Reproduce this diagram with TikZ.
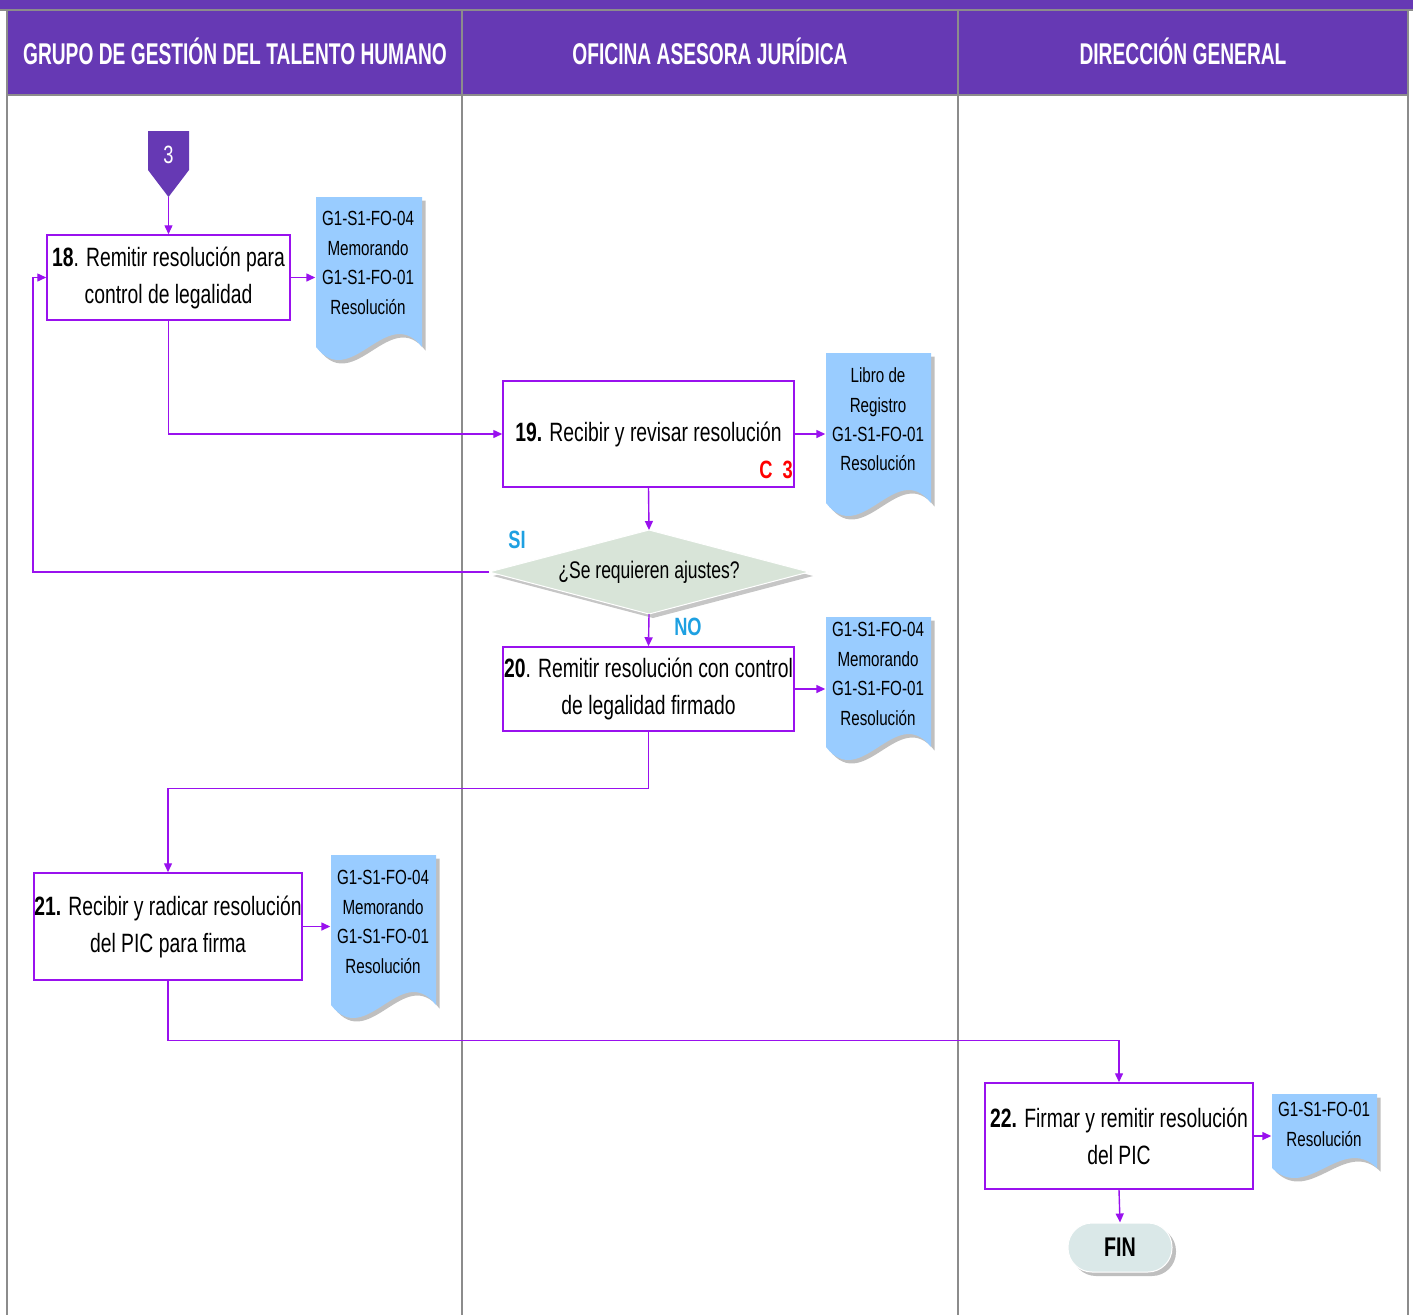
\documentclass[tikz,border=0pt]{standalone}
\usepackage{fontspec}
\setmainfont{Liberation Sans}[FakeStretch=0.73]
\newfontfamily\hdrfont{Liberation Sans}[FakeStretch=0.64]
\newfontfamily\docfontfam{Liberation Sans}[FakeStretch=0.74]
\newfontfamily\decfontfam{Liberation Sans}[FakeStretch=0.73]
\usetikzlibrary{arrows.meta,calc}
\definecolor{hdrpurple}{RGB}{102,57,180}
\definecolor{conn}{RGB}{153,17,238}
\definecolor{lanegray}{RGB}{140,140,140}
\definecolor{docfill}{RGB}{153,204,255}
\definecolor{decfill}{RGB}{216,228,216}
\definecolor{finfill}{RGB}{218,232,232}
\definecolor{lblblue}{RGB}{30,160,225}
\newcommand\docshape[5]{%
  \begin{scope}[shift={(3.5,3.5)}]
    \fill[black!50,opacity=0.5] (#1,#2) -- (#3,#2) -- (#3,#4) .. controls ({#3-(#3-#1)/3},{#4-3.46*#5}) and ({#1+(#3-#1)/3},{#4+3.46*#5}) .. (#1,#4) -- cycle;
  \end{scope}
  \fill[docfill] (#1,#2) -- (#3,#2) -- (#3,#4) .. controls ({#3-(#3-#1)/3},{#4-3.46*#5}) and ({#1+(#3-#1)/3},{#4+3.46*#5}) .. (#1,#4) -- cycle;
}
\begin{document}
\begin{tikzpicture}[x=1pt,y=-1pt,
  lane/.style={draw=lanegray, line width=1.3pt},
  hdr/.style={text=white, font=\hdrfont\bfseries\fontsize{30}{32}\selectfont, inner sep=0pt},
  proc/.style={draw=conn, line width=1.5pt, fill=white, align=center, inner sep=0pt, font=\fontsize{26.5}{37}\selectfont},
  doctext/.style={align=center, inner sep=0pt, minimum width=105, font=\docfontfam\fontsize{20.5}{29.4}\selectfont},
  flow/.style={draw=conn, line width=1.4pt, -{Triangle[length=9pt,width=8pt]}},
  lbl/.style={text=lblblue, font=\bfseries\fontsize{25}{27}\selectfont, inner sep=0pt}
]
\useasboundingbox (0,0) rectangle (1413,1315);
% header
\fill[hdrpurple] (0,0) rectangle (1413,10);
\fill[hdrpurple] (7,10) rectangle (1408,95);
\draw[lane] (0,10) -- (1413,10);
\draw[lane] (7,95) -- (1408,95);
\draw[lane] (7,10) -- (7,1315);
\draw[lane] (462,10) -- (462,1315);
\draw[lane] (958,10) -- (958,1315);
\draw[lane] (1408,10) -- (1408,1315);
\node[hdr] (h1) at (235,51) {GRUPO DE GESTIÓN DEL TALENTO HUMANO};
\node[hdr] (h2) at (710,51) {OFICINA ASESORA JURÍDICA};
\node[hdr] (h3) at (1183,51) {DIRECCIÓN GENERAL};

% off-page connector
\fill[hdrpurple] (148,131) -- (189,131) -- (189,170) -- (168.5,197) -- (148,170) -- cycle;
\node[text=white, font=\fontsize{25}{27}\selectfont, inner sep=0pt] (c3) at (168.5,155) {3};
\coordinate (offtip) at (168.5,197);

% documents
\docshape{316}{197}{422}{347}{13}
\docshape{826}{353}{931}{503}{13}
\docshape{826}{617}{931}{747}{13}
\docshape{331}{855}{436}{1005}{13}
\docshape{1272}{1094}{1377}{1168}{10}
\node[doctext] (d1) at (368,263) {G1-S1-FO-04\\Memorando\\G1-S1-FO-01\\Resolución};
\node[doctext] (d2) at (878,419.5) {Libro de\\Registro\\G1-S1-FO-01\\Resolución};
\node[doctext] (d3) at (878,674) {G1-S1-FO-04\\Memorando\\G1-S1-FO-01\\Resolución};
\node[doctext] (d4) at (383,922) {G1-S1-FO-04\\Memorando\\G1-S1-FO-01\\Resolución};
\node[doctext] (d5) at (1324,1124.5) {G1-S1-FO-01\\Resolución};

% process boxes
\node[proc, minimum width=243, minimum height=85] (b18) at (168.5,277.5) {\textbf{18}. Remitir resolución para\\control de legalidad};
\node[proc, minimum width=291, minimum height=106] (b19) at (648.5,434) {\textbf{19.} Recibir y revisar resolución};
\node[text=red, font=\bfseries\fontsize{25}{27}\selectfont, inner sep=0pt] (c3r) at (776,470) {C\ \ 3};
\node[proc, minimum width=291, minimum height=84] (b20) at (648.5,689) {\textbf{20}. Remitir resolución con control\\de legalidad firmado};
\node[proc, minimum width=268, minimum height=107] (b21) at (168,926.5) {\textbf{21.} Recibir y radicar resolución\\del PIC para firma};
\node[proc, minimum width=268, minimum height=106] (b22) at (1119,1136) {\textbf{22.} Firmar y remitir resolución\\del PIC};

% decision
\fill[black!50,opacity=0.45] (493,576) -- (653,534) -- (813,576) -- (653,618) -- cycle;
\fill[decfill] (489,572) -- (649,530) -- (809,572) -- (649,614) -- cycle;
\draw[white, line width=1pt] (489,572) -- (649,530) -- (809,572) -- (649,614) -- cycle;
\node[inner sep=0pt, font=\decfontfam\fontsize{24}{26}\selectfont] (dec) at (649,572) {¿Se requieren ajustes?};
\coordinate (dtop) at (649,530);
\coordinate (dleft) at (489,572);
\coordinate (dbot) at (649,614);
\coordinate (loopx) at (33,572);
\node[lbl] (si) at (517,540) {SI};
\node[lbl] (no) at (688,627) {NO};

% FIN
\fill[black!50,opacity=0.5,rounded corners=24] (1072,1227) rectangle (1176,1276);
\node[draw=white, line width=1pt, fill=finfill, rounded corners=24, minimum width=104, minimum height=49, inner sep=0pt, font=\bfseries\fontsize{27}{29}\selectfont] (fin) at (1120,1247.5) {FIN};

% connectors
\draw[flow] (offtip) -- (b18.north);
\draw[flow] (b18.east) -- (b18.east -| d1.west);
\draw[flow] (b18.south) |- (b19.west);
\draw[flow] (b19.east) -- (b19.east -| d2.west);
\draw[flow] (b19.south) -- (dtop);
\draw[flow] (dleft) -- (loopx) |- (b18.west);
\draw[flow] (dbot) -- (b20.north);
\draw[flow] (b20.east) -- (b20.east -| d3.west);
\draw[flow] (b20.south) -- ++(0,57) -| (b21.north);
\draw[flow] (b21.east) -- (b21.east -| d4.west);
\draw[flow] (b21.south) -- ++(0,60) -| (b22.north);
\draw[flow] (b22.east) -- (b22.east -| d5.west);
\draw[flow] (b22.south) -- (fin.north);
\end{tikzpicture}
\end{document}
